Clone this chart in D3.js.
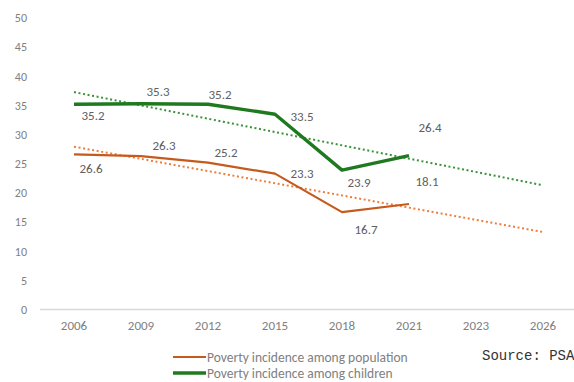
<!DOCTYPE html>
<html>
<head>
<meta charset="utf-8">
<script src="https://cdn.jsdelivr.net/npm/d3@7/dist/d3.min.js"></script>
<style>
  html, body { margin: 0; padding: 0; background: #fff; }
  svg { display: block; }
</style>
</head>
<body>
<svg id="chart" width="574" height="382"></svg>
<script>
// ---- data ----
const categories = ["2006", "2009", "2012", "2015", "2018", "2021", "2023", "2026"];
const observedYears = ["2006", "2009", "2012", "2015", "2018", "2021"];
const population = [26.6, 26.3, 25.2, 23.3, 16.7, 18.1];
const children = [35.2, 35.3, 35.2, 33.5, 23.9, 26.4];
const yTicks = [0, 5, 10, 15, 20, 25, 30, 35, 40, 45, 50];
const seriesNames = ["Poverty incidence among population", "Poverty incidence among children"];
const sourceText = "Source: PSA";

// ---- label offsets (layout, px) ----
const popLabelOffsets = [[17, 14], [23, -11], [18, -10], [27, 0], [24, 17], [18, -23]];
const childLabelOffsets = [[19, 11], [17, -12], [12, -10], [27, 2], [17, 12], [21, -28]];

// ---- styles ----
const popColor = "#c55a1c";
const popTrendColor = "#ee7d3b";
const childColor = "#1f7a1f";
const childTrendColor = "#3a923a";
const tickColor = "#808080";
const labelColor = "#606060";
const fontFamily = "Carlito, Calibri, 'Liberation Sans', Arial, sans-serif";

const svg = d3.select("#chart");

const x = d3.scaleBand().domain(categories).range([40.5, 576.5]);
const cx = d => x(d) + x.bandwidth() / 2;
const y = d3.scaleLinear().domain([0, 50]).range([309.5, 18]);

// baseline
svg.append("line")
  .attr("x1", 40).attr("x2", 574)
  .attr("y1", y(0)).attr("y2", y(0))
  .attr("stroke", "#d9d9d9").attr("stroke-width", 1.5);

// y tick labels
const yAxis = d3.axisLeft(y).tickValues(yTicks).tickSize(0).tickPadding(0);
const gy = svg.append("g").attr("transform", "translate(27,0)").call(yAxis);
gy.select(".domain").remove();
gy.selectAll("text")
  .attr("fill", tickColor)
  .attr("font-family", fontFamily)
  .attr("font-size", "12px");

// x tick labels
const xAxis = d3.axisBottom(x).tickSize(0).tickPadding(0);
const gx = svg.append("g").attr("transform", "translate(0,321)").call(xAxis);
gx.select(".domain").remove();
gx.selectAll("text")
  .attr("fill", tickColor)
  .attr("font-family", fontFamily)
  .attr("font-size", "13px");

// linear trend (least squares over category index), extended to the last category
function trend(values) {
  const xs = values.map((_, i) => i);
  const mx = d3.mean(xs), my = d3.mean(values);
  let sxy = 0, sxx = 0;
  xs.forEach((xi, i) => { sxy += (xi - mx) * (values[i] - my); sxx += (xi - mx) * (xi - mx); });
  const slope = sxy / sxx;
  const icpt = my - slope * mx;
  const last = categories.length - 1;
  return [[categories[0], icpt], [categories[last], icpt + slope * last]];
}

const trendLine = d3.line().x(d => cx(d[0])).y(d => y(d[1]));

svg.append("path")
  .datum(trend(population))
  .attr("d", trendLine)
  .attr("fill", "none")
  .attr("stroke", popTrendColor)
  .attr("stroke-width", 2)
  .attr("stroke-dasharray", "2,2.6");

svg.append("path")
  .datum(trend(children))
  .attr("d", trendLine)
  .attr("fill", "none")
  .attr("stroke", childTrendColor)
  .attr("stroke-width", 2)
  .attr("stroke-dasharray", "2,2.6");

const line = d3.line().x((d, i) => cx(observedYears[i])).y(d => y(d));

svg.append("path")
  .datum(population)
  .attr("d", line)
  .attr("fill", "none")
  .attr("stroke", popColor)
  .attr("stroke-width", 2.2)
  .attr("stroke-linejoin", "round");

svg.append("path")
  .datum(children)
  .attr("d", line)
  .attr("fill", "none")
  .attr("stroke", childColor)
  .attr("stroke-width", 3.4)
  .attr("stroke-linejoin", "round");

// data labels
function labels(values, offsets) {
  svg.append("g").selectAll("text")
    .data(values)
    .join("text")
    .attr("x", (d, i) => cx(observedYears[i]) + offsets[i][0])
    .attr("y", (d, i) => y(d) + offsets[i][1])
    .attr("dy", "0.36em")
    .attr("text-anchor", "middle")
    .attr("fill", labelColor)
    .attr("font-family", fontFamily)
    .attr("font-size", "13px")
    .text(d => d.toFixed(1));
}
labels(children, childLabelOffsets);
labels(population, popLabelOffsets);

// legend
const legendColors = [popColor, childColor];
const legendWidths = [2.2, 3.4];
const lg = svg.append("g");
seriesNames.forEach((name, i) => {
  const ly = 357 + i * 16;
  lg.append("line")
    .attr("x1", 173).attr("x2", 206)
    .attr("y1", ly).attr("y2", ly)
    .attr("stroke", legendColors[i])
    .attr("stroke-width", legendWidths[i]);
  lg.append("text")
    .attr("x", 207).attr("y", ly)
    .attr("dy", "0.35em")
    .attr("fill", tickColor)
    .attr("font-family", fontFamily)
    .attr("font-size", "13.5px")
    .text(name);
});

// source
svg.append("text")
  .attr("x", 482).attr("y", 360)
  .attr("fill", "#333333")
  .attr("font-family", "'Liberation Mono', 'DejaVu Sans Mono', monospace")
  .attr("font-size", "14px")
  .text(sourceText);
</script>
</body>
</html>
